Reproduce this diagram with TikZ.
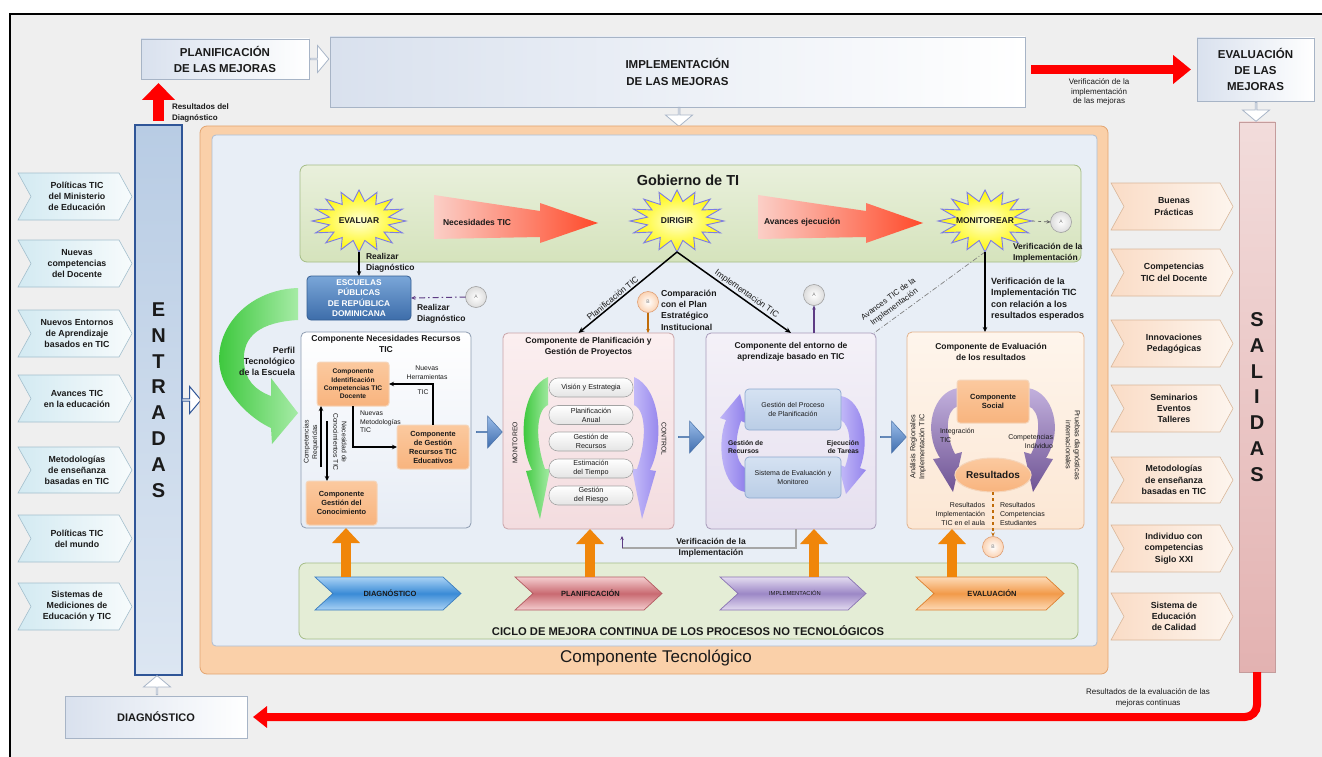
\documentclass[tikz,border=0pt]{standalone}
\usepackage{fontspec}
\setmainfont{Liberation Sans}
\usetikzlibrary{arrows.meta,shapes.geometric,shapes.arrows,calc}

\definecolor{bgc}{HTML}{EFEFEF}
\definecolor{txt}{HTML}{1A1A1A}
\definecolor{topL}{HTML}{D9E1EE}
\definecolor{topB}{HTML}{A7B4C6}
\definecolor{entrT}{HTML}{B8CCE4}
\definecolor{entrD}{HTML}{DCE6F2}
\definecolor{entrB}{HTML}{2F5597}
\definecolor{salT}{HTML}{F2DCDB}
\definecolor{salD}{HTML}{E3B2B1}
\definecolor{salB}{HTML}{C49C9C}
\definecolor{inL}{HTML}{D3EAF2}
\definecolor{inR}{HTML}{F7FBFC}
\definecolor{inB}{HTML}{A3BFCD}
\definecolor{outL}{HTML}{FADCC6}
\definecolor{outR}{HTML}{FDF5EE}
\definecolor{outB}{HTML}{D9B79A}
\definecolor{ctF}{HTML}{FAD0A9}
\definecolor{ctB}{HTML}{E3A571}
\definecolor{inrF}{HTML}{E8EEF6}
\definecolor{inrB}{HTML}{AFBDD0}
\definecolor{gobT}{HTML}{E9F0DC}
\definecolor{gobD}{HTML}{D5E3BC}
\definecolor{gobB}{HTML}{A5BD87}
\definecolor{cicF}{HTML}{E4EDD6}
\definecolor{escT}{HTML}{7AA6D8}
\definecolor{escD}{HTML}{3D6DAA}
\definecolor{escB}{HTML}{355E92}
\definecolor{necF}{HTML}{E6ECF5}
\definecolor{necB}{HTML}{8C9BB0}
\definecolor{plT}{HTML}{FBEFF0}
\definecolor{plD}{HTML}{F3DCDF}
\definecolor{plB}{HTML}{C9A3A8}
\definecolor{enT}{HTML}{F4F1F8}
\definecolor{enD}{HTML}{E6E0EF}
\definecolor{enB}{HTML}{A89BBA}
\definecolor{evT}{HTML}{FEF5EC}
\definecolor{evD}{HTML}{FCE7D4}
\definecolor{evB}{HTML}{E2B38E}
\definecolor{orT}{HTML}{FBC99F}
\definecolor{orD}{HTML}{F8B47E}
\definecolor{orB}{HTML}{F5D5BA}
\definecolor{pillD}{HTML}{E4E4E4}
\definecolor{pillB}{HTML}{A3A3A3}
\definecolor{bbT}{HTML}{D5E2F2}
\definecolor{bbD}{HTML}{BACDE6}
\definecolor{bbB}{HTML}{8CA8CF}
\definecolor{redA}{HTML}{FF0000}
\definecolor{orA}{HTML}{F0860A}
\definecolor{baT}{HTML}{9ABCE8}
\definecolor{baD}{HTML}{3F6DAE}
\definecolor{baB}{HTML}{4A72A8}
\definecolor{hollB}{HTML}{A9B6C8}
\definecolor{rgL}{HTML}{FBCFC7}
\definecolor{rgR}{HTML}{FF4A2A}
\definecolor{starI}{HTML}{FFFFD8}
\definecolor{starO}{HTML}{FFF700}
\definecolor{starB}{HTML}{7C7CE6}
\definecolor{cirF}{HTML}{DCDCDC}
\definecolor{cirB}{HTML}{A0A0A0}
\definecolor{cirBF}{HTML}{FBD3B3}
\definecolor{cirBB}{HTML}{DE9E74}
\definecolor{grL}{HTML}{25C025}
\definecolor{grR}{HTML}{A6EBA6}
\definecolor{viL}{HTML}{C6BDF9}
\definecolor{viR}{HTML}{8C7BEA}
\definecolor{puT}{HTML}{C2B0DD}
\definecolor{puD}{HTML}{6F5494}
\definecolor{prp}{HTML}{5E3C84}
\definecolor{cdT}{HTML}{A9D2F5}
\definecolor{cdM}{HTML}{3A8BD6}
\definecolor{cdB}{HTML}{3B7DBE}
\definecolor{cpT}{HTML}{F4CDCF}
\definecolor{cpM}{HTML}{C96A71}
\definecolor{cpB}{HTML}{B35A61}
\definecolor{ciT}{HTML}{E3DBF0}
\definecolor{ciM}{HTML}{9C87C6}
\definecolor{ciB}{HTML}{8973B2}
\definecolor{ceT}{HTML}{FDDAB6}
\definecolor{ceM}{HTML}{F29A4A}
\definecolor{ceB}{HTML}{DD8030}

\newcommand\myfs[2]{\fontsize{#1}{#2}\selectfont}
\newcommand\mychev[8]{%
  \path[#7path] (#2,#3) -- ({#4-#6},#3) -- (#4,{(#3+#5)/2}) -- ({#4-#6},#5) -- (#2,#5) -- ({#2+#6},{(#3+#5)/2}) -- cycle;
  \node[#7text] (#1) at ({(#2+#4)/2+2},{(#3+#5)/2}) {#8};}
\newcommand\mystar[2]{%
  \path[starpath] plot[samples at={0,11.25,...,348.75}] ({#1+47*(0.82+0.18*cos(16*\x))*cos(\x)},{#2+31*(0.82+0.18*cos(16*\x))*sin(\x)}) -- cycle;}

\begin{document}
\begin{tikzpicture}[x=1pt,y=-1pt,
  every node/.style={inner sep=0pt,outer sep=0pt,align=center,text=txt},
  topbox/.style={draw=topB, line width=0.8, left color=topL, right color=white, font=\myfs{11.5}{16}\bfseries},
  inpath/.style={draw=inB, line width=0.6, left color=inL, right color=inR},
  intext/.style={font=\myfs{8.8}{11}\bfseries},
  outpath/.style={draw=outB, line width=0.6, left color=outL, right color=outR},
  outtext/.style={font=\myfs{8.8}{11.3}\bfseries},
  cdiagpath/.style={draw=cdB, line width=0.7, top color=cdT, bottom color=cdT, middle color=cdM},
  cdiagtext/.style={font=\myfs{7.5}{9}\bfseries},
  cplanpath/.style={draw=cpB, line width=0.7, top color=cpT, bottom color=cpT, middle color=cpM},
  cplantext/.style={font=\myfs{7.5}{9}\bfseries},
  cimplpath/.style={draw=ciB, line width=0.7, top color=ciT, bottom color=ciT, middle color=ciM},
  cimpltext/.style={font=\myfs{5.8}{7}},
  cevalpath/.style={draw=ceB, line width=0.7, top color=ceT, bottom color=ceT, middle color=ceM},
  cevaltext/.style={font=\myfs{7.5}{9}\bfseries},
  hollow/.style={single arrow, draw=hollB, fill=white, line width=0.8, minimum height=19, minimum width=27, single arrow head extend=6, single arrow tip angle=100},
  bluearr/.style={single arrow, draw=baB, line width=0.5, top color=baT, bottom color=baD, minimum height=26, minimum width=32, single arrow head extend=6, single arrow tip angle=95},
  orbox/.style={draw=orB, line width=1, top color=orT, bottom color=orD, rounded corners=3},
  pill/.style={draw=pillB, line width=0.6, top color=white, bottom color=pillD, rounded corners=9, minimum width=84, font=\myfs{7.2}{9}},
  bluebox/.style={draw=bbB, line width=0.7, top color=bbT, bottom color=bbD, rounded corners=4, minimum width=96, minimum height=41, font=\myfs{7}{9}},
  lab/.style={font=\myfs{8.5}{11.3}\bfseries},
  smalllab/.style={font=\myfs{6.8}{8.5}},
  circA/.style={circle, draw=cirB, line width=0.6, inner color=white, outer color=cirF, minimum size=21, font=\myfs{5}{6}, text=gray},
  circB/.style={circle, draw=cirBB, line width=0.6, inner color=white, outer color=cirBF, minimum size=21, font=\myfs{5}{6}, text=gray},
  sarrow/.style={line width=1.2, draw=black, -{Stealth[length=5pt,width=4.5pt]}},
  starpath/.style={draw=starB, line width=0.9, inner color=starI, outer color=starO},
  redgrad/.style={left color=rgL, right color=rgR},
  orarrow/.style={draw=orA, line width=9.5, -{Triangle[width=27pt,length=15pt]}},
  starlab/.style={ellipse, minimum width=94, minimum height=62, font=\myfs{8.5}{10}\bfseries}
]
\useasboundingbox (0,0) rectangle (1322,757);
\fill[white] (0,0) rectangle (1322,757);
\draw[line width=1.2, fill=bgc] (10,14) rectangle (1345,790);

% ---------- top process boxes ----------
\node[topbox, minimum width=168, minimum height=40] (plan) at (225,59) {PLANIFICACIÓN\\DE LAS MEJORAS};
\node[topbox, minimum width=695, minimum height=70, font=\myfs{11.5}{16.5}\bfseries] (impl) at (677.5,72) {IMPLEMENTACIÓN\\DE LAS MEJORAS};
\node[topbox, minimum width=117, minimum height=63] (eval) at (1255.5,69.5) {EVALUACIÓN\\DE LAS\\MEJORAS};
\node[topbox, minimum width=182, minimum height=42, font=\myfs{11}{13}\bfseries] (diag) at (156,717) {DIAGNÓSTICO};

% ---------- side bars ----------
\node[draw=entrB, line width=1.2, top color=entrT, bottom color=entrD, minimum width=47, minimum height=550, font=\myfs{20}{25.8}\bfseries] (entr) at (158.5,400) {E\\N\\T\\R\\A\\D\\A\\S};
\node[draw=salB, line width=0.8, top color=salT, bottom color=salD, minimum width=36, minimum height=550, font=\myfs{20}{25.8}\bfseries] (sal) at (1257,397) {S\\A\\L\\I\\D\\A\\S};

% ---------- hollow arrows ----------
\node[hollow] (h1) at (319,59) {};
\node[hollow, shape border rotate=270] (h2) at (679,116.5) {};
\node[hollow, shape border rotate=270] (h3) at (1256,111.5) {};
\node[hollow, shape border rotate=90] (h4) at (157,685.5) {};
\node[hollow, draw=entrB, line width=1] (h5) at (191,400) {};

% ---------- input chevrons ----------
\mychev{i1}{18}{173}{132}{220}{13}{in}{Políticas TIC\\del Ministerio\\de Educación}
\mychev{i2}{18}{240}{132}{287}{13}{in}{Nuevas\\competencias\\del Docente}
\mychev{i3}{18}{310}{132}{357}{13}{in}{Nuevos Entornos\\de Aprendizaje\\basados en TIC}
\mychev{i4}{18}{375}{132}{422}{13}{in}{Avances TIC\\en la educación}
\mychev{i5}{18}{447}{132}{493}{13}{in}{Metodologías\\de enseñanza\\basadas en TIC}
\mychev{i6}{18}{515}{132}{562}{13}{in}{Políticas TIC\\del mundo}
\mychev{i7}{18}{583}{132}{630}{13}{in}{Sistemas de\\Mediciones de\\Educación y TIC}

% ---------- output chevrons ----------
\mychev{s1}{1111}{183}{1233}{230}{13}{out}{Buenas\\Prácticas}
\mychev{s2}{1111}{249}{1233}{296}{13}{out}{Competencias\\TIC del Docente}
\mychev{s3}{1111}{320}{1233}{367}{13}{out}{Innovaciones\\Pedagógicas}
\mychev{s4}{1111}{385}{1233}{432}{13}{out}{Seminarios\\Eventos\\Talleres}
\mychev{s5}{1111}{457}{1233}{503}{13}{out}{Metodologías\\de enseñanza\\basadas en TIC}
\mychev{s6}{1111}{525}{1233}{572}{13}{out}{Individuo con\\competencias\\Siglo XXI}
\mychev{s7}{1111}{593}{1233}{640}{13}{out}{Sistema de\\Educación\\de Calidad}

% ---------- Componente Tecnologico ----------
\node[draw=ctB, line width=0.8, fill=ctF, rounded corners=7, minimum width=908, minimum height=548] (ct) at (654,400) {};
\node[font=\myfs{17}{20}] (ctlab) at (656,658) {Componente Tecnológico};
\node[draw=inrB, line width=0.8, fill=inrF, rounded corners=4, minimum width=885, minimum height=511] (inr) at (654.5,390.5) {};

% ---------- Gobierno de TI ----------
\node[draw=gobB, line width=0.8, top color=gobT, bottom color=gobD, rounded corners=7, minimum width=781, minimum height=97] (gob) at (690.5,213.5) {};
\node[font=\myfs{14.5}{17}\bfseries] (gobt) at (688,180) {Gobierno de TI};

\path[redgrad] (434,195) -- (540,211) -- (540,203) -- (598,223) -- (540,243) -- (540,237) -- (434,239) -- cycle;
\node[lab, anchor=west] (nt) at (443,222) {Necesidades TIC};
\path[redgrad] (758,195) -- (866,211) -- (866,203) -- (923,223) -- (866,243) -- (866,237) -- (758,239) -- cycle;
\node[lab, anchor=west] (ae) at (764,222) {Avances ejecución};

\mystar{359}{221}
\node[starlab] (ev) at (359,221) {EVALUAR};
\mystar{677}{221}
\node[starlab] (dir) at (677,221) {DIRIGIR};
\mystar{985}{221}
\node[starlab] (mon) at (985,221) {MONITOREAR};

% ---------- CICLO ----------
\node[draw=gobB, line width=0.8, fill=cicF, rounded corners=7, minimum width=779, minimum height=76] (ciclo) at (688.5,601) {};
\node[font=\myfs{11.2}{13}\bfseries] (ciclot) at (688,631) {CICLO DE MEJORA CONTINUA DE LOS PROCESOS NO TECNOLÓGICOS};
\mychev{cdg}{315}{577}{461}{610}{18}{cdiag}{DIAGNÓSTICO}
\mychev{cpl}{515}{577}{662}{610}{18}{cplan}{PLANIFICACIÓN}
\mychev{cim}{720}{577}{866}{610}{18}{cimpl}{IMPLEMENTACIÓN}
\mychev{cev}{916}{577}{1064}{610}{18}{ceval}{EVALUACIÓN}

% ---------- Escuelas + perfil arrow ----------
\path[left color=grL, right color=grR] (298,288) .. controls (235,290) and (200,350) .. (230,392) .. controls (242,410) and (258,422) .. (271,428) -- (272,444) -- (298,413) -- (271,378) -- (271,396) .. controls (255,390) and (245,380) .. (244,362) .. controls (242,335) and (262,322) .. (298,320) -- cycle;
\node[font=\myfs{8.8}{11}\bfseries, anchor=east, align=right] (perf) at (295,361) {Perfil\\Tecnológico\\de la Escuela};
\node[draw=escB, line width=0.8, top color=escT, bottom color=escD, rounded corners=4, minimum width=104, minimum height=44, font=\myfs{8.3}{10.3}\bfseries, text=white] (esc) at (359,298) {ESCUELAS\\PÚBLICAS\\DE REPÚBLICA\\DOMINICANA};

% ---------- Componente Necesidades ----------
\node[draw=necB, line width=0.8, top color=white, bottom color=necF, rounded corners=5, minimum width=170, minimum height=196] (nec) at (386,430) {};
\node[font=\myfs{8.6}{10.5}\bfseries] (nect) at (386,344) {Componente Necesidades Recursos\\TIC};
\node[orbox, minimum width=72, minimum height=44, font=\myfs{6.7}{8.3}\bfseries] (ident) at (353,384) {Componente\\Identificación\\Competencias TIC\\Docente};
\node[orbox, minimum width=72, minimum height=44, font=\myfs{7.4}{9}\bfseries] (gest) at (433,447) {Componente\\de Gestión\\Recursos TIC\\Educativos};
\node[orbox, minimum width=71, minimum height=44, font=\myfs{7.4}{9}\bfseries] (conoc) at (341.5,503) {Componente\\Gestión del\\Conocimiento};
\draw[sarrow] (ident.south) |- (gest.west);
\draw[sarrow] (gest.north) |- (ident.east);
\draw[sarrow] ([xshift=15,yshift=14]conoc.north west) -- ([xshift=4]ident.south west);
\draw[sarrow] ([xshift=10,yshift=-15]ident.south west) -- ([xshift=21]conoc.north west);
\node[smalllab, rotate=90] (cr) at (311,442) {Competencias\\Requeridas};
\node[smalllab, rotate=-90] (nc) at (340,442) {Necesidad de\\Conocimientos TIC};
\node[smalllab, anchor=west, align=left] (nm) at (360,422) {Nuevas\\Metodologías\\TIC};
\node[smalllab] (nh) at (427,372.5) {Nuevas\\Herramientas};
\node[smalllab] (nhtic) at (423,392) {TIC};

% ---------- Componente Planificacion ----------
\node[draw=plB, line width=0.8, top color=plT, bottom color=plD, rounded corners=5, minimum width=171, minimum height=196] (planc) at (588.5,431) {};
\node[font=\myfs{8.5}{10.5}\bfseries] (planct) at (588.5,347) {Componente de Planificación y\\Gestión de Proyectos};
\path[left color=grL, right color=grR] (548,377) .. controls (522,388) and (517,440) .. (532,470) -- (526,471) -- (540,519) -- (550,469) -- (545,469) .. controls (535,440) and (536,410) .. (548,405) -- cycle;
\path[left color=viL, right color=viR] (634,377) .. controls (660,388) and (665,440) .. (650,470) -- (656,471) -- (642,519) -- (632,469) -- (637,469) .. controls (647,440) and (646,410) .. (634,405) -- cycle;
\node[pill, minimum height=19] (p1) at (591,387.5) {Visión y Estrategia};
\node[pill, minimum height=19] (p2) at (591,415) {Planificación\\Anual};
\node[pill, minimum height=19] (p3) at (591,441.5) {Gestión de\\Recursos};
\node[pill, minimum height=19] (p4) at (591,468.5) {Estimación\\del Tiempo};
\node[pill, minimum height=19] (p5) at (591,495.5) {Gestión\\del Riesgo};
\node[font=\myfs{6.8}{8.5}, rotate=90] (mlab) at (515,443) {MONITOREO};
\node[font=\myfs{6.8}{8.5}, rotate=-90] (clab) at (664,439) {CONTROL};

% ---------- Componente entorno ----------
\node[draw=enB, line width=0.8, top color=enT, bottom color=enD, rounded corners=5, minimum width=170, minimum height=196] (ent) at (791,431) {};
\node[font=\myfs{8.5}{10.5}\bfseries] (entt) at (791,352) {Componente del entorno de\\aprendizaje basado en TIC};
\path[left color=viL, right color=viR] (745,492) .. controls (722,488) and (716,445) .. (726,420) -- (720,418) -- (740,394) -- (748,424) -- (741,421) .. controls (734,440) and (735,462) .. (745,468) -- cycle;
\path[left color=viL, right color=viR] (841,396) .. controls (864,400) and (870,443) .. (860,468) -- (866,470) -- (846,494) -- (838,464) -- (845,467) .. controls (852,448) and (851,426) .. (841,420) -- cycle;
\node[bluebox] (gpp) at (793,409.5) {Gestión del Proceso\\de Planificación};
\node[bluebox] (sem) at (793,477.5) {Sistema de Evaluación y\\Monitoreo};
\node[font=\myfs{6.8}{8.5}\bfseries, anchor=west, align=left] (gr) at (728,447) {Gestión de\\Recursos};
\node[font=\myfs{6.8}{8.5}\bfseries, anchor=east, align=right] (et) at (859,447) {Ejecución\\de Tareas};

% ---------- Componente evaluacion ----------
\node[draw=evB, line width=0.8, top color=evT, bottom color=evD, rounded corners=5, minimum width=177, minimum height=197] (evc) at (995.5,430.5) {};
\node[font=\myfs{8.5}{10.5}\bfseries] (evct) at (991,352) {Componente de Evaluación\\de los resultados};
\path[top color=puT, bottom color=puD] (958,388) .. controls (933,392) and (922,430) .. (940,458) -- (933,459) -- (953,492) -- (962,452) -- (955,454) .. controls (945,435) and (945,410) .. (958,406) -- cycle;
\path[top color=puT, bottom color=puD] (1028,388) .. controls (1053,392) and (1064,430) .. (1046,458) -- (1053,459) -- (1033,492) -- (1024,452) -- (1031,454) .. controls (1041,435) and (1041,410) .. (1028,406) -- cycle;
\node[orbox, minimum width=72, minimum height=43, font=\myfs{7.5}{9}\bfseries] (soc) at (993,401.5) {Componente\\Social};
\node[ellipse, draw=orB, line width=1, top color=orT, bottom color=orD, minimum width=72, minimum height=34, font=\myfs{10}{12}\bfseries] (res) at (993,475) {Resultados};
\node[font=\myfs{7}{9}, anchor=west, align=left] (itic) at (940,435.5) {Integración\\TIC};
\node[font=\myfs{7}{9}, anchor=east, align=right] (cind) at (1053,441) {Competencias\\Individuo};
\node[font=\myfs{7.3}{9}, rotate=90] (arl) at (918,447) {Análisis Regionales\\Implementación TIC};
\node[font=\myfs{7.3}{9}, rotate=-90] (pdi) at (1073,445) {Pruebas diagnósticas\\internacionales};
\node[font=\myfs{7}{9}, anchor=east, align=right] (rit) at (985,514) {Resultados\\Implementación\\TIC en el aula};
\node[font=\myfs{7}{9}, anchor=west, align=left] (rce) at (1000,514) {Resultados\\Competencias\\Estudiantes};

% ---------- blue block arrows ----------
\node[bluearr] (ba1) at (489,432) {};
\node[bluearr] (ba2) at (691,437) {};
\node[bluearr] (ba3) at (893,437) {};

% ---------- connectors in the middle ----------
\draw[sarrow] (ev.south) -- (esc.north);
\node[lab, anchor=west, align=left] (rd1) at (366,263) {Realizar\\Diagnóstico};

\draw[line width=1.5, -{Stealth[length=6pt,width=5pt]}] (dir.south) -- ([xshift=-10]planc.north) node[pos=0.62, above=2, sloped, font=\myfs{8.5}{10}] (lpt) {Planificación TIC};
\draw[line width=1.5, -{Stealth[length=6pt,width=5pt]}] (dir.south) -- (ent.north) node[pos=0.58, above=2, sloped, font=\myfs{8.5}{10}] (lit) {Implementación TIC};

\draw[gray, line width=0.7, dash pattern=on 5pt off 2pt on 1pt off 2pt] (mon.south) -- ([xshift=-2]ent.north east) node[pos=0.77, above=5, sloped, font=\myfs{8}{10}] (lav) {Avances TIC de la\\Implementación};
\draw[sarrow] (mon.south) -- (mon.south |- evc.north);
\node[lab, anchor=west, align=left] (vi1) at (1013,253) {Verificación de la\\Implementación};
\node[font=\myfs{9}{11.5}\bfseries, anchor=west, align=left] (vi2) at (991,299) {Verificación de la\\Implementación TIC\\con relación a los\\resultados esperados};

\node[circA] (a1) at (1061,222) {A};
\draw[gray!80!black, line width=0.7, dashed, -{Stealth[length=4pt,width=3.5pt]}] (mon.east) -- (a1.west);
\node[circA] (a2) at (476,297) {A};
\draw[prp, line width=1, dash pattern=on 6pt off 3pt on 1.5pt off 3pt, -{Stealth[length=4.5pt,width=4pt]}] (a2.west) -- (esc.east);
\node[lab, anchor=west, align=left] (rd2) at (417,314) {Realizar\\Diagnóstico};
\node[circA] (a3) at (814,295) {A};
\draw[prp, line width=1.1, -{Stealth[length=4pt,width=3.5pt]}] ([xshift=23]ent.north) -- (a3.south);
\node[circB] (b1) at (648,302) {B};
\draw[orA!80!black, line width=1.1, -{Stealth[length=4pt,width=3.5pt]}] (b1.south) -- (b1.south |- planc.north);
\node[font=\myfs{8.7}{11.3}\bfseries, anchor=west, align=left] (cmp) at (661,310) {Comparación\\con el Plan\\Estratégico\\Institucional};
\node[circB] (b2) at (993,547) {B};
\draw[orA!80!black, line width=1.1, dashed, -{Stealth[length=4pt,width=3.5pt]}] (res.south) -- (b2.north);

\path (ent.south) ++(5,0) coordinate (vs);
\coordinate (vc) at (622,548);
\draw[gray!70, line width=1.3] (vs) |- (vc);
\draw[prp, line width=1, -{Stealth[length=4pt,width=3.5pt]}] (vc) -- ++(0,-12);
\node[font=\myfs{8.5}{11.5}\bfseries] (vimp) at (711,548) {Verificación de la\\Implementación};

% ---------- orange up arrows ----------
\coordinate (o1) at (346,577);
\coordinate (o2) at (590,577);
\coordinate (o3) at (814,577);
\coordinate (o4) at (952,577);
\draw[orarrow] (o1) -- (o1 |- nec.south);
\draw[orarrow] (o2) -- (o2 |- planc.south);
\draw[orarrow] (o3) -- (o3 |- ent.south);
\draw[orarrow] (o4) -- (o4 |- evc.south);

% ---------- red arrows ----------
\path (entr.north) ++(0,-4) coordinate (ra1);
\path (plan.south -| entr.north) ++(0,4) coordinate (ra2);
\draw[redA, line width=11, -{Triangle[width=32pt,length=17pt]}] (ra1) -- (ra2);
\node[font=\myfs{8}{11}\bfseries, anchor=west, align=left] (rdl) at (172,113) {Resultados del\\Diagnóstico};

\path (impl.east |- eval.west) ++(6,0) coordinate (rb1);
\path (eval.west) ++(-6,0) coordinate (rb2);
\draw[redA, line width=9, -{Triangle[width=28pt,length=18pt]}] (rb1) -- (rb2);
\node[font=\myfs{8}{9.6}] (vim) at (1099,92) {Verificación de la\\implementación\\de las mejoras};

\path (diag.east) ++(6,0) coordinate (rc2);
\draw[redA, line width=8, rounded corners=12, -{Triangle[width=21pt,length=14pt]}] (sal.south) |- (rc2);
\node[font=\myfs{8}{11}] (rev) at (1148,698) {Resultados de la evaluación de las\\mejoras continuas};
\end{tikzpicture}
\end{document}
